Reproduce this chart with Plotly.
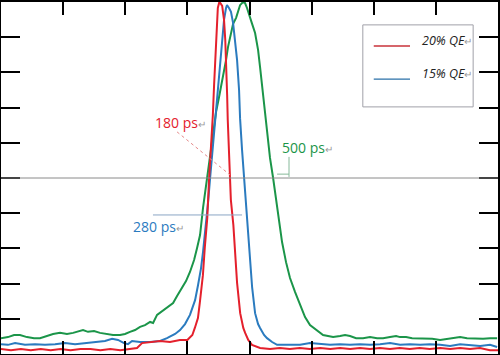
import plotly.graph_objects as go

# time axis in ps, intensity normalised to peak
red_t = [0, 80, 160, 240, 320, 400, 480, 560, 640, 720, 800, 880, 960, 1040, 1095, 1135, 1200, 1280, 1360, 1440,
         1500, 1540, 1560, 1585, 1600, 1625, 1640, 1660, 1675, 1690, 1705, 1715, 1725, 1730, 1740, 1745, 1755, 1765,
         1780, 1795, 1805, 1810, 1820, 1825, 1835, 1845, 1850, 1870, 1885, 1900, 1925, 1950, 1965, 1990, 2020, 2060,
         2085, 2165, 2245, 2325, 2405, 2485, 2570, 2650, 2730, 2810, 2890, 2970, 3050, 3130, 3210, 3290, 3370, 3450,
         3535, 3615, 3695, 3775, 3855, 3935, 4000]
red_y = [0.014, 0.011, 0.014, 0.011, 0.014, 0.011, 0.014, 0.011, 0.014, 0.014, 0.011, 0.014, 0.011, 0.014, 0.017,
         0.031, 0.034, 0.037, 0.034, 0.040, 0.040, 0.054, 0.074, 0.102, 0.145, 0.224, 0.301, 0.386, 0.500, 0.585,
         0.679, 0.764, 0.830, 0.895, 0.945, 0.983, 0.997, 0.997, 0.989, 0.949, 0.892, 0.807, 0.736, 0.665, 0.580,
         0.500, 0.438, 0.367, 0.281, 0.202, 0.116, 0.074, 0.060, 0.040, 0.026, 0.020, 0.017, 0.014, 0.017, 0.014,
         0.017, 0.014, 0.017, 0.014, 0.017, 0.014, 0.017, 0.014, 0.017, 0.014, 0.017, 0.014, 0.017, 0.014, 0.017,
         0.014, 0.017, 0.014, 0.017, 0.011, 0.011]

blue_t = [0, 56, 113, 193, 274, 354, 435, 515, 596, 676, 757, 837, 894, 942, 990, 1022, 1055, 1119, 1200, 1280,
          1336, 1401, 1441, 1481, 1521, 1562, 1586, 1610, 1626, 1650, 1667, 1683, 1699, 1715, 1731, 1747, 1763, 1779,
          1795, 1811, 1819, 1835, 1851, 1868, 1884, 1900, 1916, 1924, 1940, 1956, 1972, 1996, 2021, 2045, 2069, 2085,
          2117, 2141, 2182, 2222, 2270, 2326, 2407, 2487, 2568, 2648, 2729, 2809, 2890, 2970, 3051, 3131, 3212, 3292,
          3373, 3453, 3534, 3614, 3695, 3775, 3856, 3936, 3993]
blue_y = [0.028, 0.026, 0.031, 0.026, 0.028, 0.026, 0.028, 0.031, 0.028, 0.031, 0.034, 0.037, 0.043, 0.040, 0.031,
          0.028, 0.037, 0.034, 0.034, 0.037, 0.045, 0.057, 0.068, 0.085, 0.111, 0.153, 0.196, 0.244, 0.290, 0.366,
          0.432, 0.500, 0.565, 0.636, 0.693, 0.764, 0.835, 0.892, 0.949, 0.983, 0.991, 0.983, 0.972, 0.940, 0.892,
          0.835, 0.750, 0.670, 0.580, 0.500, 0.423, 0.324, 0.190, 0.116, 0.085, 0.074, 0.054, 0.045, 0.034, 0.026,
          0.026, 0.028, 0.026, 0.031, 0.028, 0.026, 0.028, 0.026, 0.028, 0.026, 0.028, 0.031, 0.026, 0.028, 0.026,
          0.028, 0.026, 0.023, 0.028, 0.026, 0.023, 0.026, 0.020]

green_t = [0, 56, 105, 153, 209, 266, 314, 370, 419, 475, 531, 580, 620, 660, 700, 749, 797, 853, 902, 958, 998,
           1038, 1079, 1119, 1159, 1200, 1224, 1256, 1296, 1336, 1360, 1385, 1417, 1457, 1489, 1521, 1554, 1578,
           1602, 1626, 1642, 1658, 1683, 1707, 1731, 1755, 1787, 1811, 1827, 1851, 1868, 1892, 1908, 1924, 1948,
           1964, 1980, 1996, 2021, 2045, 2069, 2085, 2101, 2125, 2149, 2165, 2190, 2222, 2246, 2262, 2294, 2326,
           2367, 2407, 2447, 2487, 2520, 2544, 2592, 2632, 2673, 2729, 2769, 2809, 2858, 2914, 2970, 3027, 3075,
           3131, 3180, 3212, 3260, 3309, 3349, 3413, 3470, 3534, 3590, 3639, 3695, 3751, 3816, 3880, 3936, 3993]
green_y = [0.045, 0.048, 0.054, 0.054, 0.048, 0.045, 0.045, 0.051, 0.057, 0.060, 0.057, 0.060, 0.065, 0.068, 0.063,
           0.065, 0.060, 0.057, 0.054, 0.054, 0.057, 0.063, 0.068, 0.077, 0.082, 0.091, 0.088, 0.111, 0.122, 0.134,
           0.139, 0.145, 0.165, 0.188, 0.207, 0.233, 0.267, 0.301, 0.338, 0.415, 0.457, 0.500, 0.565, 0.622, 0.688,
           0.730, 0.787, 0.835, 0.872, 0.915, 0.938, 0.955, 0.972, 0.991, 1.000, 0.997, 0.983, 0.963, 0.938, 0.912,
           0.864, 0.815, 0.764, 0.688, 0.608, 0.557, 0.500, 0.415, 0.358, 0.318, 0.261, 0.216, 0.176, 0.139, 0.105,
           0.082, 0.074, 0.068, 0.054, 0.051, 0.048, 0.051, 0.054, 0.051, 0.045, 0.045, 0.048, 0.045, 0.045, 0.048,
           0.051, 0.048, 0.048, 0.045, 0.045, 0.045, 0.043, 0.040, 0.043, 0.045, 0.048, 0.045, 0.043, 0.043, 0.045,
           0.045]

legend_labels = ["20% QE", "15% QE"]
fwhm_labels = ["180 ps", "280 ps", "500 ps"]
x_ticks = [500, 1000, 1500, 2000, 2500, 3000, 3500]
y_ticks = [0.1, 0.2, 0.3, 0.4, 0.5, 0.6, 0.7, 0.8, 0.9]

RED = "#e4202c"
BLUE = "#2b7bbf"
GREEN = "#1b9549"
FONT = "Open Sans"

fig = go.Figure()
fig.add_trace(go.Scatter(x=green_t, y=green_y, mode="lines", line=dict(color=GREEN, width=2), showlegend=False))
fig.add_trace(go.Scatter(x=blue_t, y=blue_y, mode="lines", line=dict(color=BLUE, width=2), showlegend=False))
fig.add_trace(go.Scatter(x=red_t, y=red_y, mode="lines", line=dict(color=RED, width=2), showlegend=False))

# half-maximum line
fig.add_shape(type="line", xref="paper", yref="y", x0=0, x1=1, y0=0.5, y1=0.5,
              line=dict(color="#8a8a8a", width=1))
# FWHM leader lines
fig.add_shape(type="line", x0=1417, y0=0.631, x1=1843, y1=0.509, line=dict(color="#e58a8a", width=1, dash="dot"))
fig.add_shape(type="line", x0=1223, y0=0.395, x1=1940, y1=0.395, line=dict(color="#8aa6c4", width=1))
fig.add_shape(type="line", x0=2318, y0=0.560, x1=2318, y1=0.503, line=dict(color="#86b99a", width=1))
fig.add_shape(type="line", x0=2222, y0=0.511, x1=2318, y1=0.511, line=dict(color="#86b99a", width=1))

ret = "<span style='color:#9a9a9a;font-size:10px'>↵</span>"
fig.add_annotation(x=1224, y=0.659, text=fwhm_labels[0] + ret, showarrow=False, xanchor="left", yanchor="middle",
                   font=dict(family=FONT, size=14, color=RED))
fig.add_annotation(x=1047, y=0.361, text=fwhm_labels[1] + ret, showarrow=False, xanchor="left", yanchor="middle",
                   font=dict(family=FONT, size=14, color=BLUE))
fig.add_annotation(x=2246, y=0.588, text=fwhm_labels[2] + ret, showarrow=False, xanchor="left", yanchor="middle",
                   font=dict(family=FONT, size=14, color=GREEN))

# legend box
fig.add_shape(type="rect", xref="paper", yref="paper", x0=0.728, x1=0.950, y0=0.702, y1=0.935,
              line=dict(color="#a0a0a8", width=1), fillcolor="white")
fig.add_shape(type="line", xref="paper", yref="paper", x0=0.750, x1=0.823, y0=0.875, y1=0.875,
              line=dict(color="#c8323a", width=1.3))
fig.add_shape(type="line", xref="paper", yref="paper", x0=0.750, x1=0.823, y0=0.781, y1=0.781,
              line=dict(color="#2a70a8", width=1.3))
fig.add_annotation(xref="paper", yref="paper", x=0.843, y=0.892, text="<i>" + legend_labels[0] + "</i>" + ret,
                   showarrow=False, xanchor="left", yanchor="middle", font=dict(family=FONT, size=12.5, color="#222"))
fig.add_annotation(xref="paper", yref="paper", x=0.843, y=0.798, text="<i>" + legend_labels[1] + "</i>" + ret,
                   showarrow=False, xanchor="left", yanchor="middle", font=dict(family=FONT, size=12.5, color="#222"))

fig.update_xaxes(range=[0, 4000], tickvals=x_ticks, ticks="inside", ticklen=13, tickwidth=1.5, tickcolor="black",
                 showticklabels=False, showline=True, linecolor="black", linewidth=1.5, mirror="ticks",
                 showgrid=False, zeroline=False)
fig.update_yaxes(range=[0, 1], tickvals=y_ticks, ticks="inside", ticklen=19, tickwidth=1.5, tickcolor="black",
                 showticklabels=False, showline=True, linecolor="black", linewidth=1.5, mirror="ticks",
                 showgrid=False, zeroline=False)
fig.update_layout(width=500, height=355, margin=dict(l=1, r=2, t=2, b=1),
                  paper_bgcolor="white", plot_bgcolor="white")

fig.write_html("out.html", config={"displayModeBar": False},
               post_script="document.body.style.margin='0';document.body.style.overflow='hidden';")
